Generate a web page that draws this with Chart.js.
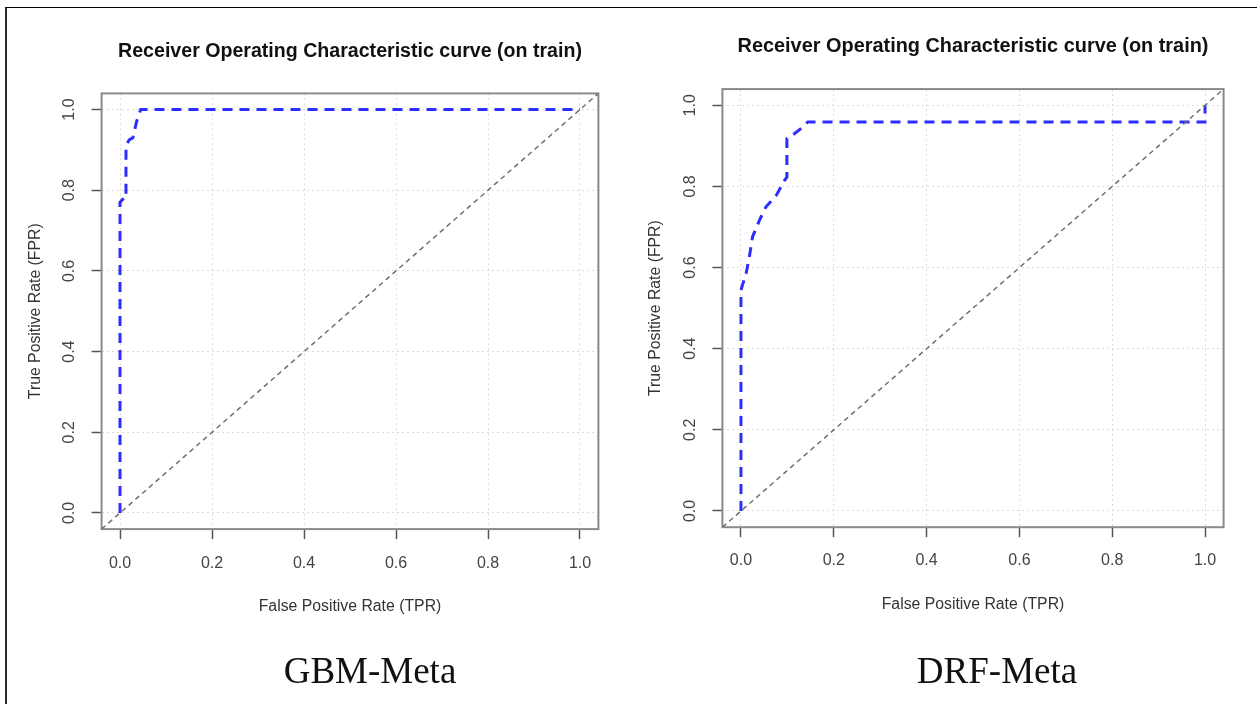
<!DOCTYPE html>
<html>
<head>
<meta charset="utf-8">
<script src="https://cdn.jsdelivr.net/npm/chart.js@4.4.1/dist/chart.umd.min.js"></script>
<style>
  html, body { margin: 0; padding: 0; background: #fff; }
  body { width: 1257px; height: 704px; position: relative; overflow: hidden; }
  .frame { position: absolute; left: 5px; top: 7px; right: 0; bottom: 0;
           border-left: 2px solid #2a2a2a; border-top: 1.5px solid #000; }
  canvas { position: absolute; top: 0; }
  #gbm { left: 0; }
  #drf { left: 628px; }
  .caption { position: absolute; top: 652px; font: 37px "Liberation Serif", "Times New Roman", serif;
             line-height: 37px; color: #111; white-space: nowrap; transform: translateX(-50%); }
</style>
</head>
<body>
<div class="frame"></div>
<canvas id="gbm" width="628" height="704"></canvas>
<canvas id="drf" width="629" height="704"></canvas>
<div class="caption" style="left:370px">GBM-Meta</div>
<div class="caption" style="left:997px">DRF-Meta</div>

<script>
// --- data ---
const TICKS = [0, 0.2, 0.4, 0.6, 0.8, 1.0];

const GBM_FPR = [0, 0, 0.008, 0.013, 0.013, 0.02, 0.028, 0.036, 0.045, 1.0];
const GBM_TPR = [0, 0.77, 0.78, 0.78, 0.91, 0.925, 0.93, 0.97, 1.0, 1.0];

const DRF_FPR = [0, 0, 0.002, 0.011, 0.018, 0.025, 0.04, 0.054, 0.076, 0.094, 0.099, 0.099, 0.115, 0.133, 0.144, 1.0, 1.0];
const DRF_TPR = [0, 0.544, 0.552, 0.585, 0.626, 0.676, 0.717, 0.75, 0.778, 0.815, 0.823, 0.918, 0.93, 0.946, 0.959, 0.959, 1.0];

// abline(0, 1) across the whole plot region
const DIAG = [-0.04, 1.04];

const TITLE = "Receiver Operating Characteristic curve (on train)";
const X_TITLE = "False Positive Rate (TPR)";
const Y_TITLE = "True Positive Rate (FPR)";

const FONT = '"Liberation Sans", Arial, Helvetica, sans-serif';

// box round the plot + rotated y tick labels (R style)
const rBox = {
  id: 'rBox',
  beforeDatasetsDraw(chart) {
    const { ctx, chartArea: a } = chart;
    ctx.save();
    ctx.strokeStyle = '#8a8a8a';
    ctx.lineWidth = 2;
    ctx.strokeRect(a.left, a.top, a.right - a.left, a.bottom - a.top);
    ctx.restore();
  },
  afterDraw(chart) {
    const { ctx, chartArea: a, scales: { y } } = chart;
    ctx.save();
    ctx.fillStyle = '#444';
    ctx.font = '16px ' + FONT;
    ctx.textAlign = 'center';
    ctx.textBaseline = 'middle';
    y.ticks.forEach(t => {
      ctx.save();
      ctx.translate(a.left - 32, y.getPixelForValue(t.value));
      ctx.rotate(-Math.PI / 2);
      ctx.fillText(t.value.toFixed(1), 0, 0);
      ctx.restore();
    });
    ctx.restore();
  }
};

function pts(xs, ys) {
  return xs.map((x, i) => ({ x, y: ys[i] }));
}

function makeChart(id, fpr, tpr, g) {
  const ctx = document.getElementById(id).getContext('2d');
  const setTicks = s => { s.ticks = TICKS.map(v => ({ value: v })); };
  const gridOpts = {
    color: '#dcdcdc',
    lineWidth: 1,
    tickLength: 10,
    tickColor: '#555',
    tickWidth: 1.5,
    tickBorderDash: []
  };
  return new Chart(ctx, {
    type: 'line',
    data: {
      datasets: [
        {
          data: pts(DIAG, DIAG),
          borderColor: '#707070',
          borderWidth: 1.5,
          borderDash: [5, 4],
          pointRadius: 0
        },
        {
          data: pts(fpr, tpr),
          borderColor: 'rgb(45,45,255)',
          borderWidth: 3,
          borderDash: [10, 7],
          pointRadius: 0,
          tension: 0
        }
      ]
    },
    options: {
      responsive: false,
      animation: false,
      devicePixelRatio: 1,
      layout: { padding: { left: g.padLeft, right: g.padRight, top: 0, bottom: g.padBottom } },
      plugins: {
        legend: { display: false },
        tooltip: { enabled: false },
        title: {
          display: true,
          text: TITLE,
          fullSize: false,
          color: '#111',
          font: { family: FONT, size: g.titleSize, weight: 'bold' },
          padding: { top: g.titleTop, bottom: g.titleBottom }
        }
      },
      scales: {
        x: {
          type: 'linear',
          min: -0.04,
          max: 1.04,
          afterBuildTicks: setTicks,
          afterFit: s => { s.height = g.xHeight; },
          grid: gridOpts,
          border: { display: false, dash: [2, 3] },
          ticks: {
            color: '#444',
            padding: g.xTickPad,
            maxRotation: 0,
            font: { family: FONT, size: 16 },
            callback: v => v.toFixed(1)
          },
          title: {
            display: true,
            text: X_TITLE,
            color: '#333',
            font: { family: FONT, size: 15.8 },
            padding: { top: 4, bottom: 4 }
          }
        },
        y: {
          type: 'linear',
          min: -0.04,
          max: 1.04,
          afterBuildTicks: setTicks,
          afterFit: s => { s.width = g.yWidth; },
          grid: gridOpts,
          border: { display: false, dash: [2, 3] },
          ticks: { display: false },
          title: {
            display: true,
            text: Y_TITLE,
            color: '#333',
            font: { family: FONT, size: 15.8 },
            padding: { top: 4, bottom: 4 }
          }
        }
      }
    },
    plugins: [rBox]
  });
}

// === GBM-Meta (left) ===
makeChart('gbm', GBM_FPR, GBM_TPR, {
  padLeft: 22, padRight: 29.6, padBottom: 83.7,
  yWidth: 79.6, xHeight: 91.2, xTickPad: 14.5,
  titleSize: 19.6, titleTop: 39.8, titleBottom: 30.1
});

// === DRF-Meta (right) ===
makeChart('drf', DRF_FPR, DRF_TPR, {
  padLeft: 14, padRight: 33.4, padBottom: 85.7,
  yWidth: 80.4, xHeight: 91.1, xTickPad: 13.3,
  titleSize: 19.9, titleTop: 34.1, titleBottom: 31.1
});
</script>
</body>
</html>
